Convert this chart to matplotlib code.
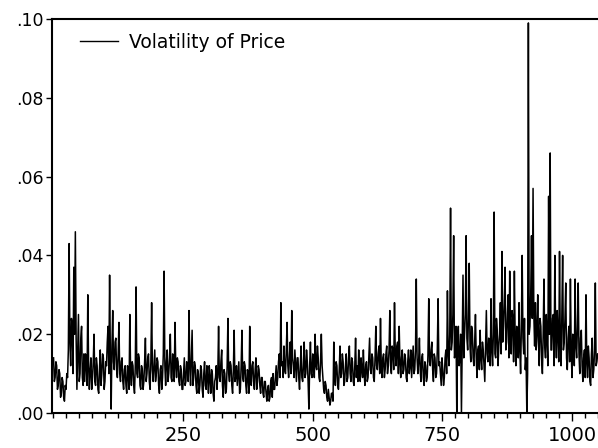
import numpy as np
import matplotlib
matplotlib.use("Agg")
import matplotlib.pyplot as plt
from matplotlib.ticker import MultipleLocator, FixedLocator, FuncFormatter

# Volatility of price in thousandths (value / 1000).
# Main readings: one every 3 observations starting at observation 1.
vol_thousandths = [
    14, 9, 12, 7, 10, 5, 8, 3, 6, 9,
    43, 12, 22, 37, 46, 6, 25, 10, 22, 7,
    8, 13, 30, 6, 14, 9, 20, 7, 12, 5,
    16, 10, 14, 8, 12, 22, 35, 1, 26, 11,
    19, 9, 23, 8, 14, 6, 12, 5, 10, 25,
    7, 12, 5, 32, 9, 14, 6, 11, 8, 19,
    10, 15, 6, 28, 8, 16, 10, 13, 5, 12,
    9, 36, 7, 16, 10, 20, 8, 14, 23, 9,
    13, 7, 11, 6, 14, 8, 12, 26, 7, 21,
    9, 12, 5, 10, 7, 11, 4, 13, 6, 9,
    12, 5, 10, 3, 9, 6, 22, 8, 16, 4,
    10, 6, 24, 8, 12, 5, 21, 9, 7, 13,
    6, 21, 8, 12, 5, 10, 22, 7, 13, 6,
    14, 8, 11, 5, 9, 4, 8, 3, 7, 4,
    9, 10, 6, 12, 9, 15, 28, 13, 17, 10,
    23, 9, 18, 26, 12, 16, 8, 14, 6, 17,
    8, 18, 10, 13, 1, 18, 9, 14, 20, 11,
    14, 8, 20, 9, 5, 7, 3, 4, 3, 5,
    18, 7, 12, 6, 17, 10, 13, 8, 15, 9,
    17, 8, 13, 7, 19, 12, 16, 8, 11, 16,
    7, 13, 9, 19, 10, 14, 8, 22, 11, 17,
    24, 9, 15, 11, 17, 12, 26, 10, 16, 28,
    12, 18, 22, 9, 16, 11, 14, 8, 16, 12,
    9, 17, 11, 34, 10, 19, 8, 15, 7, 12,
    9, 29, 12, 18, 8, 14, 10, 29, 13, 7,
    11, 9, 16, 31, 12, 52, 18, 45, 15, 0,
    22, 14, 0, 35, 20, 45, 16, 38, 13, 21,
    12, 25, 9, 17, 21, 11, 16, 8, 26, 13,
    18, 29, 12, 51, 14, 21, 17, 28, 41, 22,
    37, 18, 30, 36, 15, 24, 36, 12, 20, 28,
    10, 40, 15, 11, 0, 99, 22, 45, 57, 17,
    16, 30, 12, 22, 10, 34, 14, 19, 55, 66,
    16, 25, 40, 14, 20, 41, 12, 40, 18, 33,
    11, 22, 34, 9, 18, 34, 14, 33, 10, 21,
    8, 16, 30, 9, 14, 7, 19, 11, 33, 13,
]
# In-between readings: 1.5 observations after each main reading.
vol_between_thousandths = [
    8, 13, 6, 11, 4, 9, 4, 7, 10, 16,
    18, 24, 10, 20, 19, 15, 8, 19, 9, 15,
    15, 7, 12, 11, 6, 13, 8, 14, 6, 11,
    7, 15, 6, 13, 18, 10, 14, 17, 13, 18,
    11, 15, 10, 13, 8, 11, 7, 12, 6, 10,
    13, 7, 12, 10, 15, 7, 12, 6, 13, 8,
    14, 8, 13, 11, 12, 8, 14, 7, 11, 6,
    15, 12, 13, 8, 14, 9, 15, 8, 12, 14,
    8, 12, 6, 10, 7, 13, 8, 12, 14, 7,
    13, 7, 11, 5, 12, 6, 10, 7, 12, 5,
    9, 11, 5, 8, 12, 10, 9, 13, 7, 11,
    5, 12, 10, 13, 7, 11, 8, 12, 10, 5,
    12, 9, 13, 7, 11, 5, 10, 12, 8, 11,
    6, 12, 7, 9, 5, 8, 5, 6, 3, 8,
    4, 6, 9, 7, 13, 9, 12, 9, 11, 16,
    12, 14, 10, 14, 9, 12, 14, 9, 12, 9,
    12, 9, 16, 8, 12, 10, 15, 9, 12, 17,
    9, 13, 12, 6, 8, 4, 6, 2, 5, 3,
    10, 13, 7, 11, 9, 15, 7, 12, 8, 14,
    10, 14, 8, 12, 9, 8, 10, 14, 9, 10,
    12, 8, 14, 11, 15, 9, 14, 12, 15, 10,
    12, 14, 9, 15, 10, 16, 12, 17, 11, 15,
    17, 10, 13, 14, 10, 15, 9, 13, 10, 16,
    13, 10, 16, 14, 13, 11, 14, 9, 13, 8,
    15, 13, 16, 11, 15, 9, 16, 12, 10, 14,
    7, 14, 10, 15, 20, 16, 25, 14, 22, 18,
    12, 20, 18, 14, 25, 19, 24, 17, 22, 14,
    18, 14, 16, 11, 14, 18, 12, 17, 15, 19,
    12, 16, 20, 15, 24, 12, 20, 15, 18, 28,
    16, 25, 14, 20, 26, 13, 19, 22, 14, 16,
    22, 19, 24, 14, 10, 20, 30, 24, 25, 28,
    20, 18, 24, 14, 20, 17, 25, 12, 20, 16,
    24, 12, 20, 26, 13, 18, 25, 16, 24, 14,
    19, 13, 16, 20, 12, 17, 22, 15, 19, 12,
    14, 9, 13, 17, 8, 15, 9, 16, 12, 15,
]
first_obs = 1
obs_step = 3
between_offset = 1.5
series_label = "Volatility of Price"
y_ticks = [0.00, 0.02, 0.04, 0.06, 0.08, 0.10]
x_ticks = [250, 500, 750, 1000]

main_vals = np.array(vol_thousandths) / 1000.0
mid_vals = np.array(vol_between_thousandths) / 1000.0
main_obs = first_obs + obs_step * np.arange(len(main_vals))
mid_obs = main_obs + between_offset
obs = np.column_stack([main_obs, mid_obs]).ravel()
vol = np.column_stack([main_vals, mid_vals]).ravel()

plt.rcParams['font.family'] = ['DejaVu Sans']

fig = plt.figure(figsize=(5.98, 4.48), dpi=100)
W, H = 598, 448
left_px, right_px, top_px, bottom_px = 52, 600, 19, 413
ax = fig.add_axes([left_px / W, 1 - bottom_px / H,
                   (right_px - left_px) / W, (bottom_px - top_px) / H])

ax.plot(obs, vol, color='black', lw=1.1, label=series_label)

ax.set_xlim(-2, 1054)
ax.set_ylim(0.0, 0.10)

ax.xaxis.set_major_locator(FixedLocator(x_ticks))
ax.xaxis.set_minor_locator(MultipleLocator(25))
ax.yaxis.set_major_locator(FixedLocator(y_ticks))
ax.yaxis.set_major_formatter(FuncFormatter(lambda v, p: f"{v:.2f}".lstrip('0')))

for s in ['left', 'bottom', 'top']:
    ax.spines[s].set_linewidth(1.5)
ax.spines['right'].set_visible(False)

ax.tick_params(axis='x', which='major', direction='out', length=6, width=1,
               labelsize=14, pad=3)
ax.tick_params(axis='x', which='minor', direction='out', length=3.8, width=1)
ax.tick_params(axis='y', which='major', direction='out', length=4.5, width=1,
               labelsize=12.5, pad=1.5)

leg = ax.legend(loc='upper left', frameon=False, fontsize=13.5,
                handlelength=2.0, handletextpad=0.6, borderpad=0,
                borderaxespad=0, bbox_to_anchor=(28 / 548, 1 - 14 / 394))
for line in leg.get_lines():
    line.set_linewidth(1.0)

fig.savefig("out.png", dpi=100)
